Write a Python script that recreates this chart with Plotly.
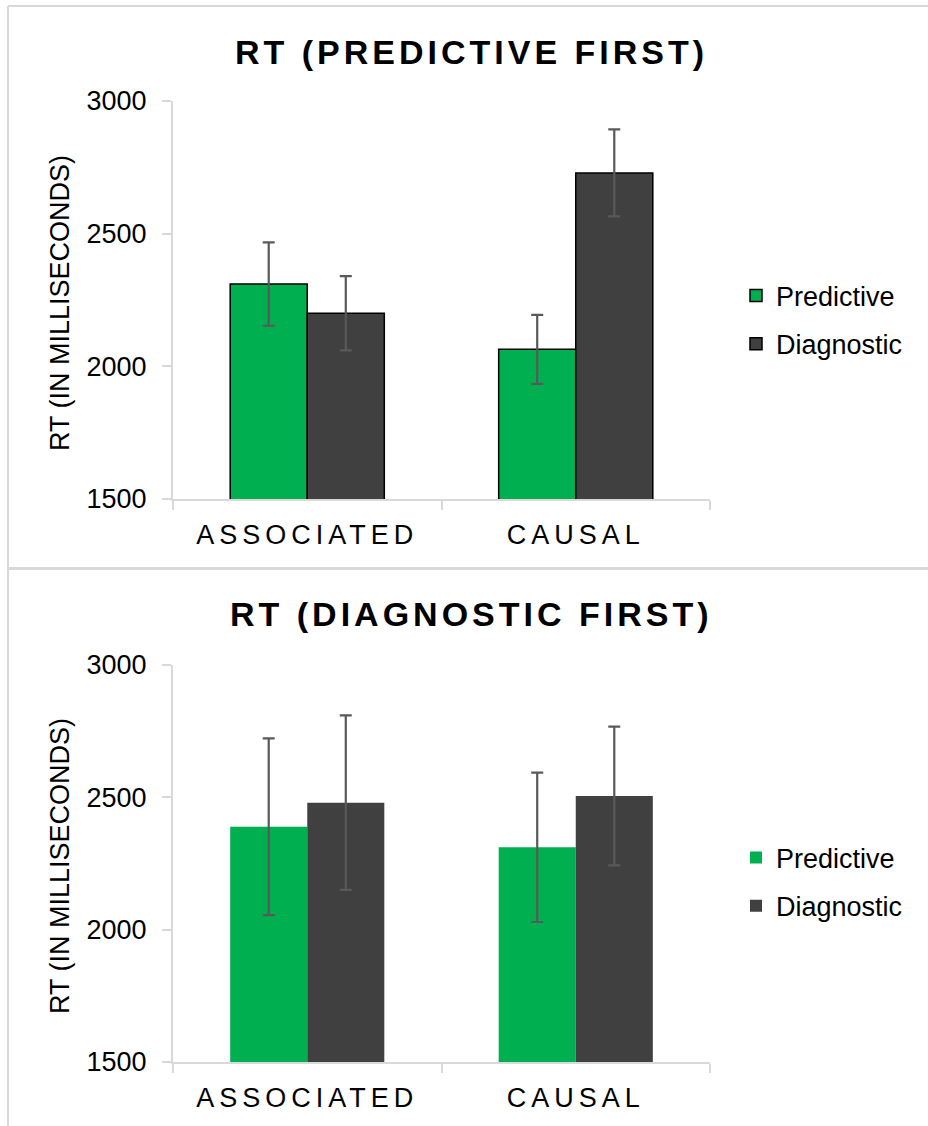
import plotly.graph_objects as go

# ---------------- data ----------------
categories = ["ASSOCIATED", "CAUSAL"]
series_names = ["Predictive", "Diagnostic"]

pf_predictive = [2310, 2064]
pf_predictive_err = [157, 130]
pf_diagnostic = [2200, 2729]
pf_diagnostic_err = [140, 164]

df_predictive = [2389, 2311]
df_predictive_err = [334, 282]
df_diagnostic = [2480, 2505]
df_diagnostic_err = [330, 262]

panel_titles = ["RT (PREDICTIVE FIRST)", "RT (DIAGNOSTIC FIRST)"]
y_title = "RT (IN MILLISECONDS)"
y_ticks = [1500, 2000, 2500, 3000]

# ---------------- styling ----------------
W, H = 928, 1126
FONT = "Liberation Sans, Arial, sans-serif"
GREEN = "#00B050"
DARK = "#404040"
AXIS = "#d9d9d9"
ERR = "#595959"


def px(x):
    return x / W


def py(y):
    return 1 - y / H


fig = go.Figure()

panels = [
    (pf_predictive, pf_predictive_err, pf_diagnostic, pf_diagnostic_err, "x", "y", "legend", 1.5),
    (df_predictive, df_predictive_err, df_diagnostic, df_diagnostic_err, "x2", "y2", "legend2", 0),
]

for i, (pv, pe, dv, de, xa, ya, lg, lw) in enumerate(panels):
    for name, vals, errs, col in [(series_names[0], pv, pe, GREEN), (series_names[1], dv, de, DARK)]:
        fig.add_trace(go.Bar(
            x=categories, y=vals, name=name,
            xaxis=xa, yaxis=ya, legend=lg, legendgroup=f"{name}{i}",
            marker=dict(color=col, line=dict(color="#000000", width=lw)),
            error_y=dict(type="data", array=errs, visible=True, color=ERR, thickness=2.2, width=6),
        ))

axis_common = dict(
    showline=True, linecolor=AXIS, linewidth=2, showgrid=False, zeroline=False,
    ticks="outside", ticklen=9, tickcolor=AXIS, tickwidth=2, automargin=False,
    tickfont=dict(family=FONT, size=27, color="#000000"),
)

x_domain = [px(173), px(710)]
fig.update_layout(
    width=W, height=H,
    margin=dict(l=0, r=0, t=0, b=0, autoexpand=False),
    paper_bgcolor="white", plot_bgcolor="white",
    barmode="group", bargap=0.426, bargroupgap=0,
    font=dict(family=FONT, color="#000000"),
    xaxis=dict(domain=x_domain, anchor="y", type="category", tickson="boundaries",
               ticklabelstandoff=11, **axis_common),
    yaxis=dict(domain=[py(499), py(101)], anchor="x", range=[1500, 3000], tickvals=y_ticks,
               ticklabelstandoff=10, **axis_common),
    xaxis2=dict(domain=x_domain, anchor="y2", type="category", tickson="boundaries",
                ticklabelstandoff=11, **axis_common),
    yaxis2=dict(domain=[py(1062), py(665)], anchor="x2", range=[1500, 3000], tickvals=y_ticks,
                ticklabelstandoff=10, **axis_common),
    legend=dict(x=px(736), y=py(320), xanchor="left", yanchor="middle",
                font=dict(family=FONT, size=27, color="#000000"),
                tracegroupgap=10, bgcolor="rgba(0,0,0,0)"),
    legend2=dict(x=px(736), y=py(882), xanchor="left", yanchor="middle",
                 font=dict(family=FONT, size=27, color="#000000"),
                 tracegroupgap=10, bgcolor="rgba(0,0,0,0)"),
    showlegend=True,
)

# panel titles and y axis titles
for title, ty, yty in [(panel_titles[0], 52, 303), (panel_titles[1], 614, 866)]:
    fig.add_annotation(text=f"<b>{title}</b>", x=px(471), y=py(ty), xref="paper", yref="paper",
                       showarrow=False, xanchor="center", yanchor="middle",
                       font=dict(family=FONT, size=34, color="#000000"))
    fig.add_annotation(text=y_title, x=px(60), y=py(yty), xref="paper", yref="paper",
                       showarrow=False, textangle=-90, xanchor="center", yanchor="middle",
                       font=dict(family=FONT, size=27, color="#000000"))

# panel borders
border = dict(color=AXIS, width=2)
fig.add_shape(type="line", xref="paper", yref="paper", x0=px(8), x1=1.0, y0=py(6), y1=py(6), line=border)
fig.add_shape(type="line", xref="paper", yref="paper", x0=px(8), x1=px(8), y0=py(6), y1=0, line=border)
fig.add_shape(type="line", xref="paper", yref="paper", x0=px(8), x1=1.0, y0=py(568.5), y1=py(568.5),
              line=dict(color=AXIS, width=3))

post = """
document.body.style.margin = '0';
document.body.style.overflow = 'hidden';
var gd = document.getElementById('{plot_id}');
gd.querySelectorAll('.annotation-text').forEach(function(t){
  if (t.textContent.indexOf('FIRST') >= 0) { t.style.letterSpacing = '4px'; }
});
gd.querySelectorAll('.xtick text, .x2tick text').forEach(function(t){ t.style.letterSpacing = '5px'; });
"""

fig.write_html("out.html", post_script=post, config={"displayModeBar": False})
